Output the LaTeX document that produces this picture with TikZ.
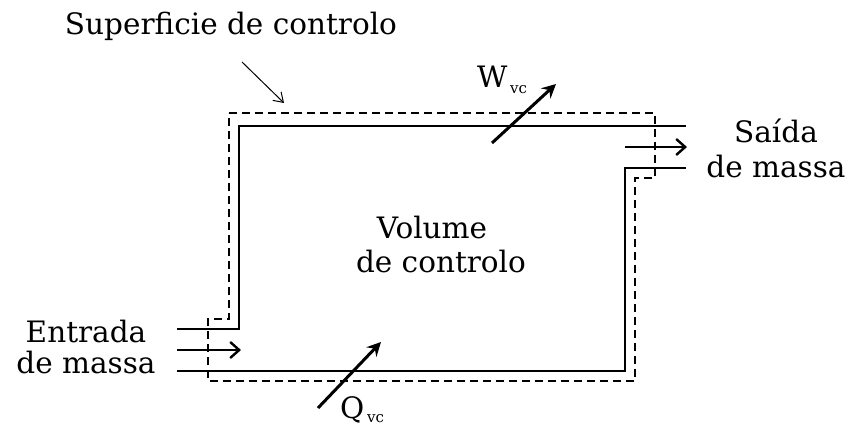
\documentclass[tikz,border=0pt]{standalone}
\usepackage{fontspec}
\setmainfont{DejaVu Serif}
\usetikzlibrary{arrows.meta}
\begin{document}
\begin{tikzpicture}[x=1pt,y=-1pt,
  wall/.style={line width=1.8pt},
  surf/.style={line width=2pt,dash pattern=on 8pt off 5pt},
  flow/.style={line width=1.8pt,-{Straight Barb[length=9pt,width=16pt,line width=2.4pt]}},
  energy/.style={line width=3pt,-{Stealth[length=14pt,width=14pt,inset=5pt]}},
  pointer/.style={line width=1pt,-{Straight Barb[length=9pt,width=12pt]}},
  lbl/.style={font=\fontsize{29.5}{34}\selectfont,inner sep=0pt,anchor=base},
  sub/.style={font=\fontsize{15}{17}\selectfont,inner sep=0pt,anchor=base west}]
\useasboundingbox (0,0) rectangle (852,428);
% solid walls
\coordinate (a1) at (177,329);
\coordinate (a2) at (239,329);
\coordinate (a3) at (239,126);
\coordinate (a4) at (686,126);
\coordinate (b1) at (177,371);
\coordinate (b2) at (625,371);
\coordinate (b3) at (625,168);
\coordinate (b4) at (686,168);
\draw[wall] (a1) -- (a2) -- (a3) -- (a4);
\draw[wall] (b1) -- (b2) -- (b3) -- (b4);
% control surface
\coordinate (c1) at (229,113);
\coordinate (c2) at (655,113);
\coordinate (c3) at (655,178);
\coordinate (c4) at (635,178);
\coordinate (c5) at (635,381);
\coordinate (c6) at (208,381);
\coordinate (c7) at (208,319);
\coordinate (c8) at (229,319);
\draw[surf] (c1) -- (c2) -- (c3) -- (c4) -- (c5) -- (c6) -- (c7) -- (c8) -- cycle;
% mass flows
\coordinate (in0) at (177,350);
\coordinate (in1) at (241,350);
\coordinate (out0) at (625,147);
\coordinate (out1) at (687,147);
\draw[flow] (in0) -- (in1);
\draw[flow] (out0) -- (out1);
% energy
\coordinate (w0) at (492,143);
\coordinate (w1) at (556,84);
\coordinate (q0) at (318,408);
\coordinate (q1) at (381,342);
\draw[energy] (w0) -- (w1);
\draw[energy] (q0) -- (q1);
% labels
\node[lbl] (sup) at (231,35) {Superficie de controlo};
\coordinate (p0) at (242,62);
\coordinate (p1) at (284,103);
\draw[pointer] (p0) -- (p1);
\node[lbl] (vol1) at (432,238) {Volume};
\node[lbl] (vol2) at (441,272) {de controlo};
\node[lbl] (ent1) at (86,342) {Entrada};
\node[lbl] (ent2) at (86,373) {de massa};
\node[lbl] (sai1) at (776,142) {Saída};
\node[lbl] (sai2) at (776,177) {de massa};
\node[lbl,anchor=base west] (w) at (477,88) {W};
\node[sub] (wsub) at (510,93) {vc};
\node[lbl,anchor=base west] (q) at (340,418) {Q};
\node[sub] (qsub) at (367,422) {vc};
\end{tikzpicture}
\end{document}
